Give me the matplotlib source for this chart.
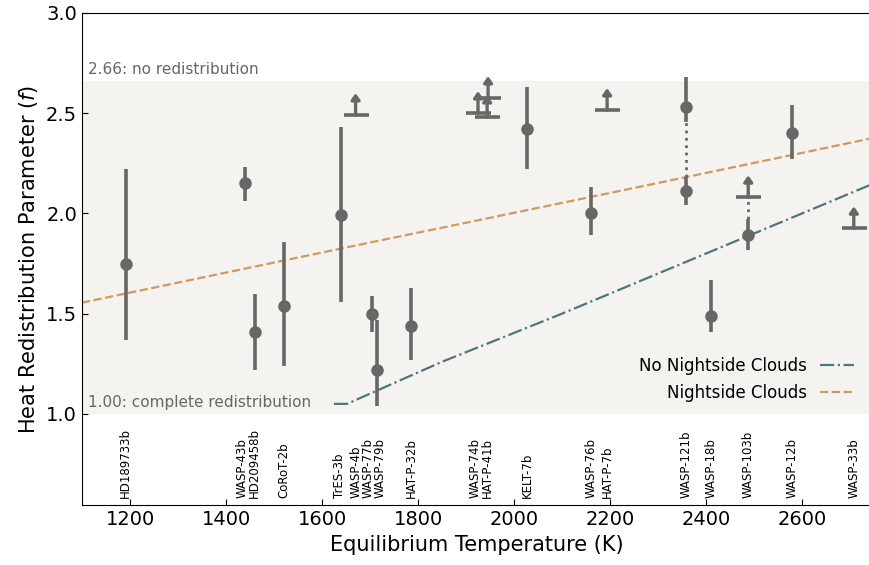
import matplotlib.pyplot as plt
import matplotlib.transforms as mtransforms

# measured planets: T_eq, f, upper, lower
names = ["HD189733b", "WASP-43b", "HD209458b", "CoRoT-2b", "TrES-3b",
         "WASP-77b", "WASP-79b", "HAT-P-32b", "KELT-7b", "WASP-76b",
         "WASP-121b", "WASP-121b", "WASP-18b", "WASP-103b", "WASP-12b"]
temps = [1191, 1440, 1460, 1521, 1640, 1704, 1715, 1786, 2027, 2160,
         2358, 2358, 2411, 2488, 2579]
f_vals = [1.75, 2.15, 1.41, 1.54, 1.99, 1.50, 1.22, 1.44, 2.42, 2.00,
          2.53, 2.11, 1.49, 1.89, 2.40]
f_hi = [2.22, 2.23, 1.60, 1.86, 2.43, 1.59, 1.47, 1.63, 2.63, 2.13,
        2.68, 2.18, 1.67, 1.97, 2.54]
f_lo = [1.37, 2.06, 1.22, 1.24, 1.56, 1.41, 1.04, 1.27, 2.22, 1.89,
        2.455, 2.04, 1.41, 1.82, 2.27]

# lower limits
lim_names = ["WASP-4b", "WASP-74b", "HAT-P-41b", "HAT-P-41b", "HAT-P-7b",
             "WASP-103b", "WASP-33b"]
lim_temps = [1670, 1925, 1946, 1944, 2194, 2488, 2708]
lim_vals = [2.49, 2.50, 2.575, 2.48, 2.515, 2.08, 1.925]

# dotted connectors between two estimates of the same planet
link_temps = [2358, 2488]
link_top = [2.455, 2.08]
link_bot = [2.18, 1.97]

# labels along the bottom (nudged apart where crowded)
label_names = ["HD189733b", "WASP-43b", "HD209458b", "CoRoT-2b", "TrES-3b",
               "WASP-4b", "WASP-77b", "WASP-79b", "HAT-P-32b", "WASP-74b",
               "HAT-P-41b", "KELT-7b", "WASP-76b", "HAT-P-7b", "WASP-121b",
               "WASP-18b", "WASP-103b", "WASP-12b", "WASP-33b"]
label_temps = [1191, 1434, 1459, 1521, 1637, 1672, 1697, 1722, 1786, 1919,
               1944, 2027, 2160, 2194, 2358, 2411, 2488, 2579, 2708]

# model curves
cloud_T = [1100, 1400, 1700, 2000, 2300, 2600, 2745]
cloud_f = [1.555, 1.705, 1.855, 2.003, 2.152, 2.302, 2.375]
clear_T = [1625, 1652, 1850, 2100, 2400, 2745]
clear_f = [1.05, 1.05, 1.26, 1.50, 1.80, 2.145]

GRAY = "#676767"
ORANGE = "#d09a5f"
TEAL = "#4e777b"

fig = plt.figure(figsize=(8.69, 5.65), dpi=100)
ax = fig.add_axes([0.0944, 0.106, 0.908, 0.871])

ax.axhspan(1.0, 2.66, color="#f5f3ef", zorder=0, lw=0)

ax.plot(clear_T, clear_f, ls="-.", color=TEAL, lw=1.6, label="No Nightside Clouds", zorder=2)
ax.plot(cloud_T, cloud_f, ls="--", color=ORANGE, lw=1.6, label="Nightside Clouds", zorder=2)

for T, f, hi, lo in zip(temps, f_vals, f_hi, f_lo):
    ax.plot([T, T], [lo, hi], color=GRAY, lw=2.6, solid_capstyle="butt", zorder=3)
ax.plot(temps, f_vals, "o", color=GRAY, ms=8, zorder=4)

for T, top, bot in zip(link_temps, link_top, link_bot):
    ax.plot([T, T], [bot, top], ls=":", color=GRAY, lw=2, zorder=3)

for T, f in zip(lim_temps, lim_vals):
    ax.plot(T, f, marker="_", ms=18, mew=2.6, color=GRAY, zorder=4)
    ax.annotate("", xy=(T, f + 0.11), xytext=(T, f),
                arrowprops=dict(arrowstyle="-|>,head_width=0.25,head_length=0.35",
                                color=GRAY, lw=2.4, shrinkA=0, shrinkB=0),
                zorder=4)

ax.text(1112, 2.68, "2.66: no redistribution", fontsize=11, color="#666666",
        ha="left", va="bottom")
ax.text(1112, 1.02, "1.00: complete redistribution", fontsize=11, color="#666666",
        ha="left", va="bottom")

trans = mtransforms.blended_transform_factory(ax.transData, ax.transAxes)
for name, T in zip(label_names, label_temps):
    ax.text(T, 0.015, name, rotation=90, fontsize=8.5, ha="center", va="bottom",
            transform=trans)

ax.set_xlim(1100, 2744)
ax.set_ylim(0.545, 3.0)
ax.set_yticks([1.0, 1.5, 2.0, 2.5, 3.0])
ax.set_xticks([1200, 1400, 1600, 1800, 2000, 2200, 2400, 2600])
ax.tick_params(direction="in", labelsize=14, length=4)
ax.set_xlabel("Equilibrium Temperature (K)", fontsize=15)
ax.set_ylabel("Heat Redistribution Parameter ($f$)", fontsize=15)

ax.legend(loc="lower right", frameon=False, markerfirst=False, fontsize=12,
          handlelength=2.0, bbox_to_anchor=(0.997, 0.18))

fig.savefig("out.png", dpi=100)
